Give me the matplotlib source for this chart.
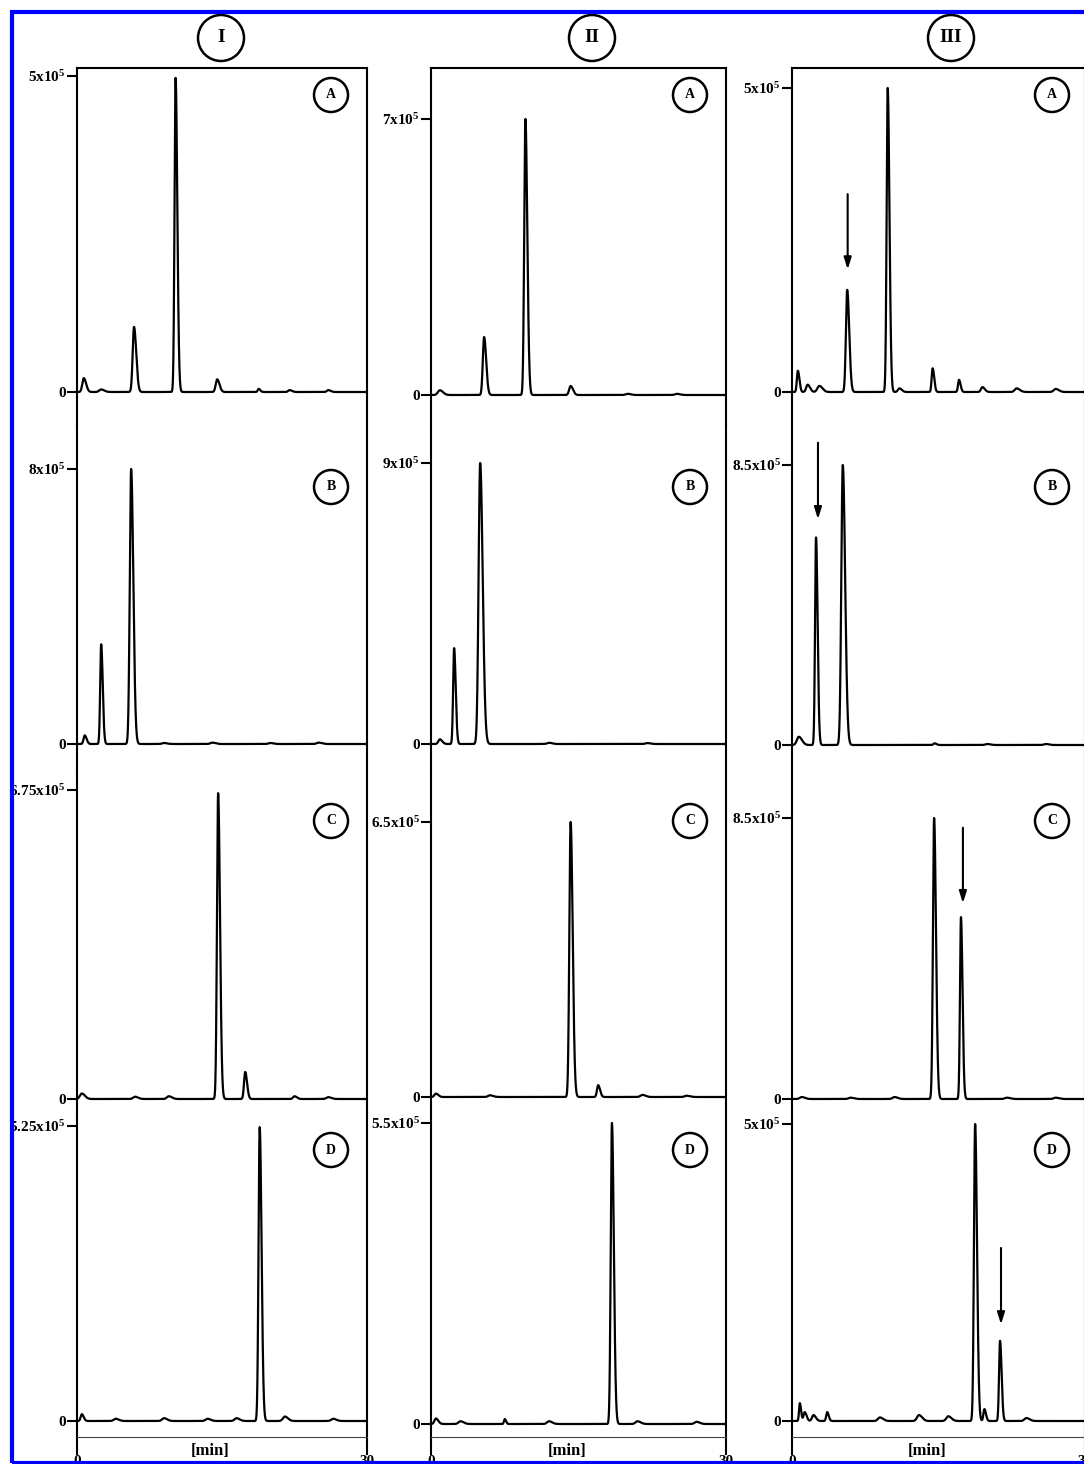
import matplotlib
matplotlib.use('Agg')
import matplotlib.pyplot as plt
import numpy as np
from matplotlib.patches import Ellipse, Rectangle

plt.rcParams['font.family'] = ['Liberation Serif', 'DejaVu Serif']
plt.rcParams['font.weight'] = 'bold'
plt.rcParams['mathtext.fontset'] = 'custom'
plt.rcParams['mathtext.rm'] = 'Liberation Serif:bold'
plt.rcParams['mathtext.bf'] = 'Liberation Serif:bold'
plt.rcParams['mathtext.default'] = 'bf'

# ---- data ----
columns = ['I', 'II', 'III']
panels = ['A', 'B', 'C', 'D']

# top tick values of each trace, in units of 10^5
top_ticks_I = [5, 8, 6.75, 5.25]
top_ticks_II = [7, 9, 6.5, 5.5]
top_ticks_III = [5, 8.5, 8.5, 5]

# peaks: (retention time [min], height [x10^5], width [min])
peaks_I_A = [(0.7, 0.22, 0.15), (2.5, 0.04, 0.2), (5.9, 1.03, 0.14), (10.2, 4.97, 0.11),
             (14.5, 0.2, 0.15), (18.8, 0.05, 0.1), (22.0, 0.03, 0.15), (26.0, 0.03, 0.15)]
peaks_I_B = [(0.8, 0.25, 0.12), (2.5, 2.9, 0.1), (5.6, 8.0, 0.14), (9.0, 0.03, 0.2),
             (14.0, 0.04, 0.2), (20.0, 0.03, 0.2), (25.0, 0.04, 0.2)]
peaks_I_C = [(0.5, 0.12, 0.2), (6.0, 0.05, 0.2), (9.5, 0.06, 0.2), (14.6, 6.68, 0.12),
             (17.4, 0.59, 0.12), (22.5, 0.06, 0.15), (26.0, 0.04, 0.2)]
peaks_I_D = [(0.5, 0.12, 0.12), (4.0, 0.04, 0.2), (9.0, 0.05, 0.2), (13.5, 0.04, 0.2),
             (16.5, 0.05, 0.2), (18.9, 5.23, 0.12), (21.5, 0.08, 0.2), (26.5, 0.04, 0.2)]

peaks_II_A = [(0.9, 0.12, 0.2), (5.4, 1.47, 0.13), (9.6, 7.0, 0.12), (14.2, 0.23, 0.15),
              (20.0, 0.03, 0.2), (25.0, 0.03, 0.2)]
peaks_II_B = [(0.9, 0.15, 0.15), (2.35, 3.07, 0.1), (5.0, 9.0, 0.16), (12.0, 0.04, 0.2),
              (22.0, 0.03, 0.2)]
peaks_II_C = [(0.5, 0.08, 0.15), (6.0, 0.04, 0.2), (14.2, 6.5, 0.13), (17.0, 0.28, 0.12),
              (21.5, 0.05, 0.2), (26.0, 0.03, 0.2)]
peaks_II_D = [(0.5, 0.1, 0.15), (3.0, 0.05, 0.2), (7.5, 0.09, 0.08), (12.0, 0.05, 0.2),
              (18.4, 5.5, 0.12), (21.0, 0.05, 0.2), (27.0, 0.04, 0.2)]

peaks_III_A = [(0.6, 0.35, 0.1), (1.6, 0.12, 0.15), (2.8, 0.1, 0.2), (5.65, 1.68, 0.13),
               (9.8, 5.0, 0.11), (11.0, 0.06, 0.15), (14.4, 0.39, 0.1), (17.1, 0.2, 0.1),
               (19.5, 0.08, 0.15), (23.0, 0.06, 0.2), (27.0, 0.05, 0.2)]
peaks_III_B = [(0.7, 0.25, 0.2), (2.46, 6.3, 0.1), (5.2, 8.5, 0.15), (14.6, 0.05, 0.12),
               (20.0, 0.03, 0.2), (26.0, 0.03, 0.2)]
peaks_III_C = [(1.0, 0.06, 0.2), (6.0, 0.04, 0.2), (10.5, 0.06, 0.2), (14.55, 8.5, 0.12),
               (17.3, 5.5, 0.1), (22.0, 0.04, 0.2), (27.0, 0.04, 0.2)]
peaks_III_D = [(0.8, 0.3, 0.08), (1.3, 0.15, 0.12), (2.2, 0.1, 0.15), (3.6, 0.15, 0.1),
               (9.0, 0.06, 0.2), (13.0, 0.1, 0.2), (16.0, 0.08, 0.2), (18.75, 5.0, 0.12),
               (19.7, 0.2, 0.1), (21.3, 1.35, 0.1), (24.0, 0.05, 0.2)]

# arrows in column III: (time, start, end) in x10^5
arrows_III = {'A': (5.7, 3.3, 1.97), 'B': (2.66, 9.26, 6.77),
              'C': (17.5, 8.29, 5.84), 'D': (21.4, 2.96, 1.58)}

top_ticks = [top_ticks_I, top_ticks_II, top_ticks_III]
peaks = [[peaks_I_A, peaks_I_B, peaks_I_C, peaks_I_D],
         [peaks_II_A, peaks_II_B, peaks_II_C, peaks_II_D],
         [peaks_III_A, peaks_III_B, peaks_III_C, peaks_III_D]]

# ---- layout (pixels) ----
W, H = 1084, 1464
col_x = [(77, 367), (431, 726), (792, 1085)]
bands = [(68, 425), (425, 770), (770, 1112), (1112, 1437)]
# (baseline pixel, top tick pixel) of each trace
levels = [[(392, 76), (744, 469), (1099, 790), (1421, 1126)],
          [(395, 119), (744, 463), (1097, 822), (1424, 1123)],
          [(392, 88), (745, 465), (1099, 818), (1421, 1124)]]
letter_x = [331, 690, 1052]
letter_y = [95, 487, 821, 1150]
roman_x = [221, 592, 951]


def trace(t, plist):
    y = np.zeros_like(t)
    for t0, h, s in plist:
        sig = np.where(t < t0, s, s * 1.6)
        y += h * np.exp(-0.5 * ((t - t0) / sig) ** 2)
    return y


def circle_label(fig, x, y, r, text, size):
    fig.add_artist(Ellipse((x / W, 1 - y / H), 2 * r / W, 2 * r / H,
                           transform=fig.transFigure, fill=False, lw=1.8, color='black'))
    fig.text(x / W, 1 - y / H, text, ha='center', va='center', fontsize=size,
             fontweight='bold')


fig = plt.figure(figsize=(W / 100, H / 100), dpi=100)
t = np.linspace(0, 30, 3001)

for c in range(3):
    x0, x1 = col_x[c]
    for p in range(4):
        top, bot = bands[p]
        ax = fig.add_axes([x0 / W, 1 - bot / H, (x1 - x0) / W, (bot - top) / H])
        b0, t1 = levels[c][p]
        V = top_ticks[c][p]
        val = lambda px: V * (b0 - px) / (b0 - t1)
        ax.plot(t, trace(t, peaks[c][p]), color='black', lw=1.6)
        ax.set_xlim(0, 30)
        ax.set_ylim(val(bot), val(top))
        ax.set_yticks([0, V])
        ax.set_yticklabels(['0', f'{V:g}x10$^5$'])
        ax.tick_params(axis='y', direction='out', length=7, width=1.5, pad=1, labelsize=11)
        for s in ['left', 'right']:
            ax.spines[s].set_linewidth(1.5)
        ax.spines['top'].set_visible(p == 0)
        ax.spines['top'].set_linewidth(1.5)
        if p == 3:
            ax.spines['bottom'].set_linewidth(0.8)
            ax.spines['bottom'].set_color('#444444')
            ax.set_xticks([0, 30])
            ax.tick_params(axis='x', direction='out', length=13, width=1.5, pad=0, labelsize=11)
            ax.annotate('[min]', xy=(0.46, 0), xycoords='axes fraction', xytext=(0, -10),
                        textcoords='offset points', ha='center', va='center', fontsize=12)
        else:
            ax.spines['bottom'].set_visible(False)
            ax.set_xticks([])
        if c == 2:
            tx, ys, ye = arrows_III[panels[p]]
            ax.annotate('', xy=(tx, ye), xytext=(tx, ys),
                        arrowprops=dict(arrowstyle='-|>,head_length=0.7,head_width=0.22',
                                        color='black', lw=1.5))
        circle_label(fig, letter_x[c], letter_y[p], 17, panels[p], 10)
    circle_label(fig, roman_x[c], 38, 23, columns[c], 14)

# blue frame
fig.add_artist(Rectangle((12 / W, 1 - 1463 / H), 1100 / W, (1463 - 12) / H,
                         transform=fig.transFigure, fill=False, lw=3, color='#0000ff',
                         zorder=10))

fig.savefig('out.png', dpi=100)
